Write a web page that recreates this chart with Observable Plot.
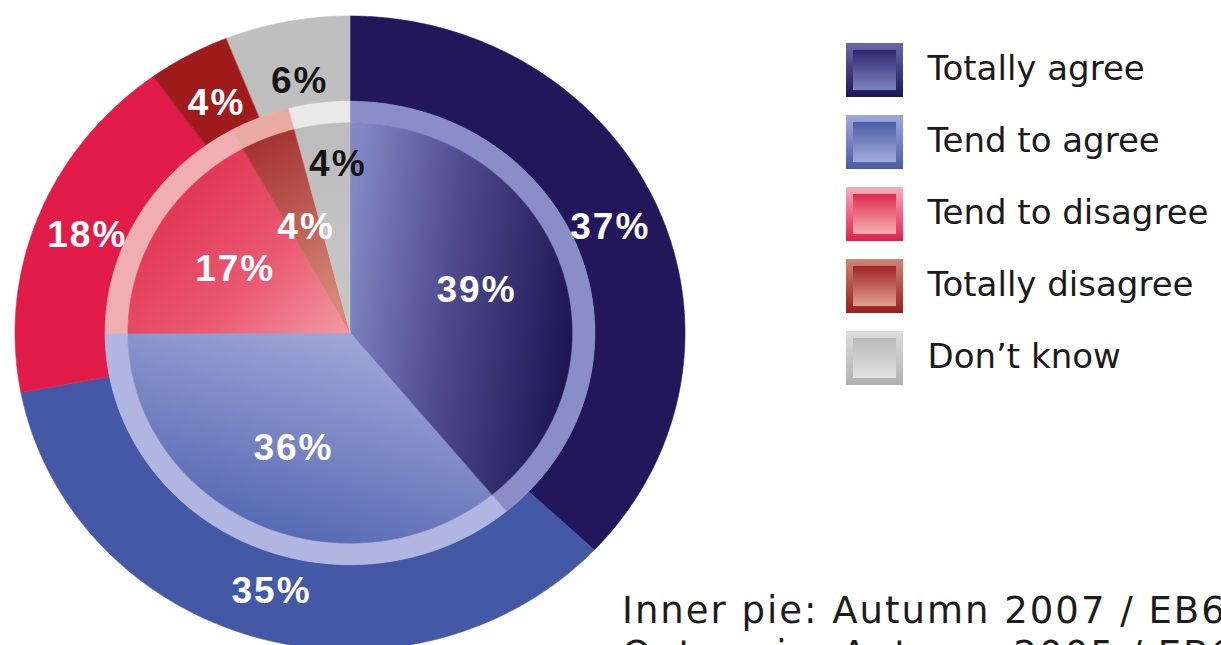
<!DOCTYPE html>
<html><head><meta charset="utf-8">
<script src="https://cdn.jsdelivr.net/npm/d3@7"></script>
<script src="https://cdn.jsdelivr.net/npm/@observablehq/plot@0.6"></script>
<style>
html,body{margin:0;padding:0;background:#fff;}
body{width:1221px;height:645px;overflow:hidden;position:relative;}
#pie{position:absolute;left:0;top:0;}
#legend{position:absolute;left:840px;top:0;}
#caption{position:absolute;left:622px;top:589px;font-family:"DejaVu Sans",sans-serif;font-size:37px;letter-spacing:2px;line-height:44px;color:#1c1c1c;white-space:nowrap;}
</style></head><body>
<div id="pie"></div><div id="legend"></div>
<div id="caption"></div>
<script>
// ---- data ----
const categories = ["Totally agree", "Tend to agree", "Tend to disagree", "Totally disagree", "Don’t know"];
const outerValues = [37, 35, 18, 4, 6];   // outer pie
const innerValues = [39, 36, 17, 4, 4];   // inner pie
const captionLines = ["Inner pie: Autumn 2007 / EB68", "Outer pie: Autumn 2005 / EB64"];

// ---- styles ----
const outerColors = ["#21175a", "#4459a5", "#e21c48", "#a01c1c", "#bfbfbf"];
const rimColors = ["#8a8dc8", "#b1b6e0", "#f0aeb0", "#eaaaa4", "#e9e9e9"];
const innerGradients = [
  {id: "in0", x1: 0, y1: 0.3, x2: 1, y2: 0.5, stops: [[0, "#8286c5"], [0.45, "#4f4b8f"], [1, "#1f1754"]]},
  {id: "in1", x1: 0.8, y1: 0, x2: 0.3, y2: 1, stops: [[0, "#a7acda"], [1, "#5064b0"]]},
  {id: "in2", x1: 0, y1: 0.2, x2: 1, y2: 1, stops: [[0, "#df2a4c"], [0.6, "#ea5a72"], [1, "#f39aa4"]]},
  {id: "in3", x1: 0, y1: 0, x2: 0.3, y2: 1, stops: [[0, "#a02a2a"], [1, "#d48878"]]},
  {id: "in4", x1: 0, y1: 0, x2: 0, y2: 1, stops: [[0, "#bcbcbc"], [1, "#c8c8c8"]]}
];
const legendBorder = [
  {id: "lb0", x1: 0, y1: 0, x2: 0, y2: 1, stops: [[0, "#6a6aa8"], [1, "#1c1456"]]},
  {id: "lb1", x1: 0, y1: 0, x2: 0, y2: 1, stops: [[0, "#a2a9d8"], [1, "#4a5aa8"]]},
  {id: "lb2", x1: 0, y1: 0, x2: 0, y2: 1, stops: [[0, "#f4b0b8"], [1, "#e0204a"]]},
  {id: "lb3", x1: 0, y1: 0, x2: 0, y2: 1, stops: [[0, "#c88878"], [1, "#9a1c1c"]]},
  {id: "lb4", x1: 0, y1: 0, x2: 0, y2: 1, stops: [[0, "#dcdcdc"], [1, "#b0b0b0"]]}
];
const legendInner = [
  {id: "li0", x1: 0, y1: 0, x2: 0, y2: 1, stops: [[0, "#2c2870"], [1, "#8082c0"]]},
  {id: "li1", x1: 0, y1: 0, x2: 0, y2: 1, stops: [[0, "#4a5ca8"], [1, "#a4acda"]]},
  {id: "li2", x1: 0, y1: 0, x2: 0, y2: 1, stops: [[0, "#e02a50"], [1, "#f4b0b0"]]},
  {id: "li3", x1: 0, y1: 0, x2: 0, y2: 1, stops: [[0, "#a02424"], [1, "#e0a090"]]},
  {id: "li4", x1: 0, y1: 0, x2: 0, y2: 1, stops: [[0, "#b8b8b8"], [1, "#e2e2e2"]]}
];
const labelColors = ["#ffffff", "#ffffff", "#ffffff", "#ffffff", "#151515"];
const R_OUT = 1, R_RING_IN = 0.731, R_RIM_IN = 0.663;
const outerLabelR = [0.845, 0.845, 0.845, 0.83, 0.81];
const innerLabelR = [0.40, 0.40, 0.40, 0.36, 0.54];
const innerLabelDx = [0, 0, 0, 0, 10];

function defsMark(grads) {
  return () => {
    const d = d3.create("svg:defs");
    grads.forEach(g => {
      const lg = d.append("linearGradient").attr("id", g.id)
        .attr("x1", g.x1).attr("y1", g.y1).attr("x2", g.x2).attr("y2", g.y2);
      g.stops.forEach(s => lg.append("stop").attr("offset", s[0]).attr("stop-color", s[1]));
    });
    return d.node();
  };
}

function sectors(values, r0, r1, fills) {
  const total = d3.sum(values);
  let acc = 0;
  const pts = [];
  values.forEach((v, i) => {
    const a0 = acc / total * 2 * Math.PI; acc += v;
    const a1 = acc / total * 2 * Math.PI;
    const n = Math.max(2, Math.ceil((a1 - a0) / (Math.PI / 360)));
    for (let k = 0; k <= n; k++) {
      const a = a0 + (a1 - a0) * k / n;
      pts.push({i, fill: fills[i],
        x1: r1 * Math.sin(a), y1: r1 * Math.cos(a),
        x2: r0 * Math.sin(a), y2: r0 * Math.cos(a)});
    }
  });
  return pts;
}

function labels(values, rs, dxs) {
  const total = d3.sum(values);
  let acc = 0;
  return values.map((v, i) => {
    const mid = (acc + v / 2) / total * 2 * Math.PI; acc += v;
    return {x: rs[i] * Math.sin(mid), y: rs[i] * Math.cos(mid), text: v + "%", color: labelColors[i], dx: dxs ? dxs[i] : 0};
  });
}

const areaOpts = {x1: "x1", y1: "y1", x2: "x2", y2: "y2", z: "i", fill: "fill", stroke: "fill", strokeWidth: 0.6};
const textOpts = {x: "x", y: "y", text: "text", fill: "color", fontSize: 37, fontWeight: "bold", fontFamily: "Liberation Sans, Arial, sans-serif"};

const innerLabels = labels(innerValues, innerLabelR, innerLabelDx);
const pie = Plot.plot({
  width: 720, height: 645, margin: 0,
  style: {letterSpacing: "2px", background: "transparent"},
  x: {domain: [-1, 1], range: [15, 685], axis: null},
  y: {domain: [-1, 1], range: [650, 16], axis: null},
  color: {type: "identity"},
  marks: [
    defsMark(innerGradients),
    Plot.area(sectors(outerValues, R_RING_IN, R_OUT, outerColors), areaOpts),
    Plot.area(sectors(innerValues, R_RIM_IN, R_RING_IN, rimColors), areaOpts),
    Plot.area(sectors(innerValues, 0, R_RIM_IN, innerGradients.map(g => `url(#${g.id})`)), areaOpts),
    Plot.text(labels(outerValues, outerLabelR), textOpts),
    Plot.text(innerLabels.filter(d => d.dx === 0), textOpts),
    Plot.text(innerLabels.filter(d => d.dx !== 0), {...textOpts, dx: 10})
  ]
});
document.getElementById("pie").append(pie);

const legend = Plot.plot({
  width: 381, height: 410, margin: 0,
  x: {type: "band", domain: ["swatch"], range: [6, 63], padding: 0, axis: null},
  y: {type: "band", domain: categories, range: [23.5, 404.5], padding: 0.255, axis: null},
  color: {type: "identity"},
  marks: [
    defsMark([...legendBorder, ...legendInner]),
    Plot.cell(categories, {x: () => "swatch", y: d => d, fill: (d, i) => `url(#${legendBorder[i].id})`}),
    Plot.cell(categories, {x: () => "swatch", y: d => d, inset: 7, fill: (d, i) => `url(#${legendInner[i].id})`}),
    Plot.text(categories, {x: () => "swatch", y: d => d, text: d => d, textAnchor: "start", dx: 52.5, dy: -1,
      fontSize: 34, fontFamily: "DejaVu Sans, sans-serif", fill: "#1a1a1a"})
  ]
});
document.getElementById("legend").append(legend);

const cap = document.getElementById("caption");
captionLines.forEach(t => { const d = document.createElement("div"); d.textContent = t; cap.append(d); });
</script>
</body></html>
